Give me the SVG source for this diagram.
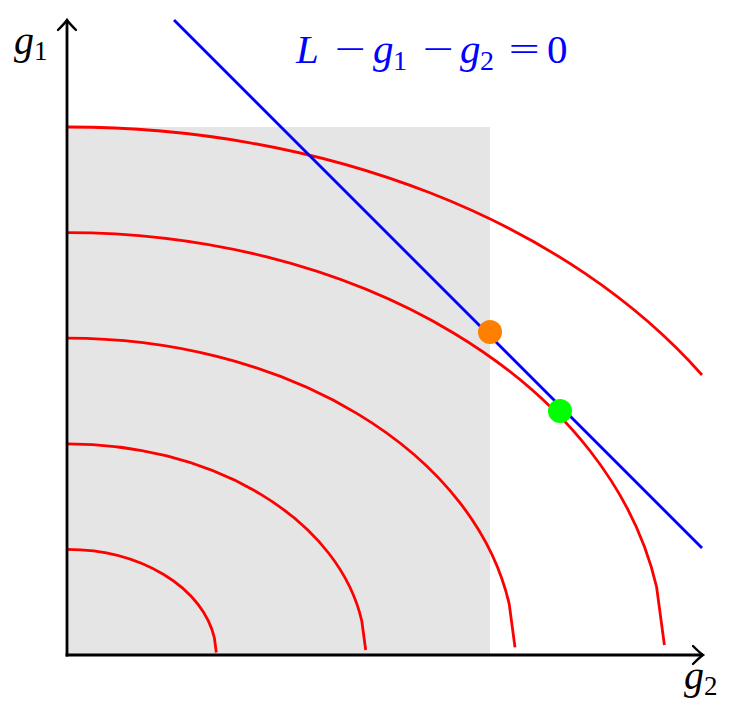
<svg xmlns="http://www.w3.org/2000/svg" width="753" height="713" viewBox="0 0 753 713">
<style>
.curve{fill:none;stroke:#ff0000;stroke-width:2.8}
.axis{fill:none;stroke:#000;stroke-width:2.8}
.math{font-family:"Liberation Serif","DejaVu Serif",serif;font-style:italic}
.num{font-style:normal}
.op{font-style:normal;font-family:"DejaVu Sans",sans-serif;font-weight:200}
</style>
<rect id="region" x="67" y="127" width="423" height="528" fill="#e5e5e5"/>
<g id="level-curves">
<path id="c1" class="curve" d="M67,549.4 A149.3,105.6 0 0 1 214.4,638 L216.3,652.5"/>
<path id="c2" class="curve" d="M67,443.8 A298.7,211.2 0 0 1 361.8,621 L365.7,650"/>
<path id="c3" class="curve" d="M67,338.2 A448,316.8 0 0 1 509.2,604 L515,647.4"/>
<path id="c4" class="curve" d="M67,232.6 A597.4,422.4 0 0 1 656.6,587 L664.4,645"/>
<path id="c5" class="curve" d="M67,127 A746.7,528 0 0 1 702,375"/>
</g>
<g id="constraint">
<line x1="174" y1="20" x2="702" y2="548" stroke="#0000ff" stroke-width="2.8"/>
<text class="math" x="296" y="63" font-size="41" fill="#0000ff">L<tspan class="op" x="333" dy="-1">−</tspan><tspan x="373" dy="1">g</tspan><tspan class="num" x="393" dy="7" font-size="28">1</tspan><tspan class="op" x="421" dy="-8">−</tspan><tspan x="460" dy="1">g</tspan><tspan class="num" x="480" dy="7" font-size="28">2</tspan><tspan class="op" x="507" dy="-8">=</tspan><tspan class="num" x="547" dy="1">0</tspan></text>
</g>
<g id="axes">
<line class="axis" x1="67" y1="656.4" x2="67" y2="20"/>
<line class="axis" x1="65.6" y1="655" x2="703" y2="655"/>
<path d="M58,30 Q65,23 67,20 Q69,23 76,30" fill="none" stroke="#000" stroke-width="2.4" stroke-linecap="round"/>
<path d="M693,646 Q700,653 703,655 Q700,657 693,664" fill="none" stroke="#000" stroke-width="2.4" stroke-linecap="round"/>
<text class="math" x="14" y="54" font-size="40">g<tspan class="num" font-size="27" dy="6">1</tspan></text>
<text class="math" x="684" y="689" font-size="40">g<tspan class="num" font-size="27" dy="6">2</tspan></text>
</g>
<g id="points">
<circle id="orange" cx="490" cy="332" r="12" fill="#ff8000"/>
<circle id="green" cx="560" cy="411" r="12" fill="#00ff00"/>
</g>
</svg>
